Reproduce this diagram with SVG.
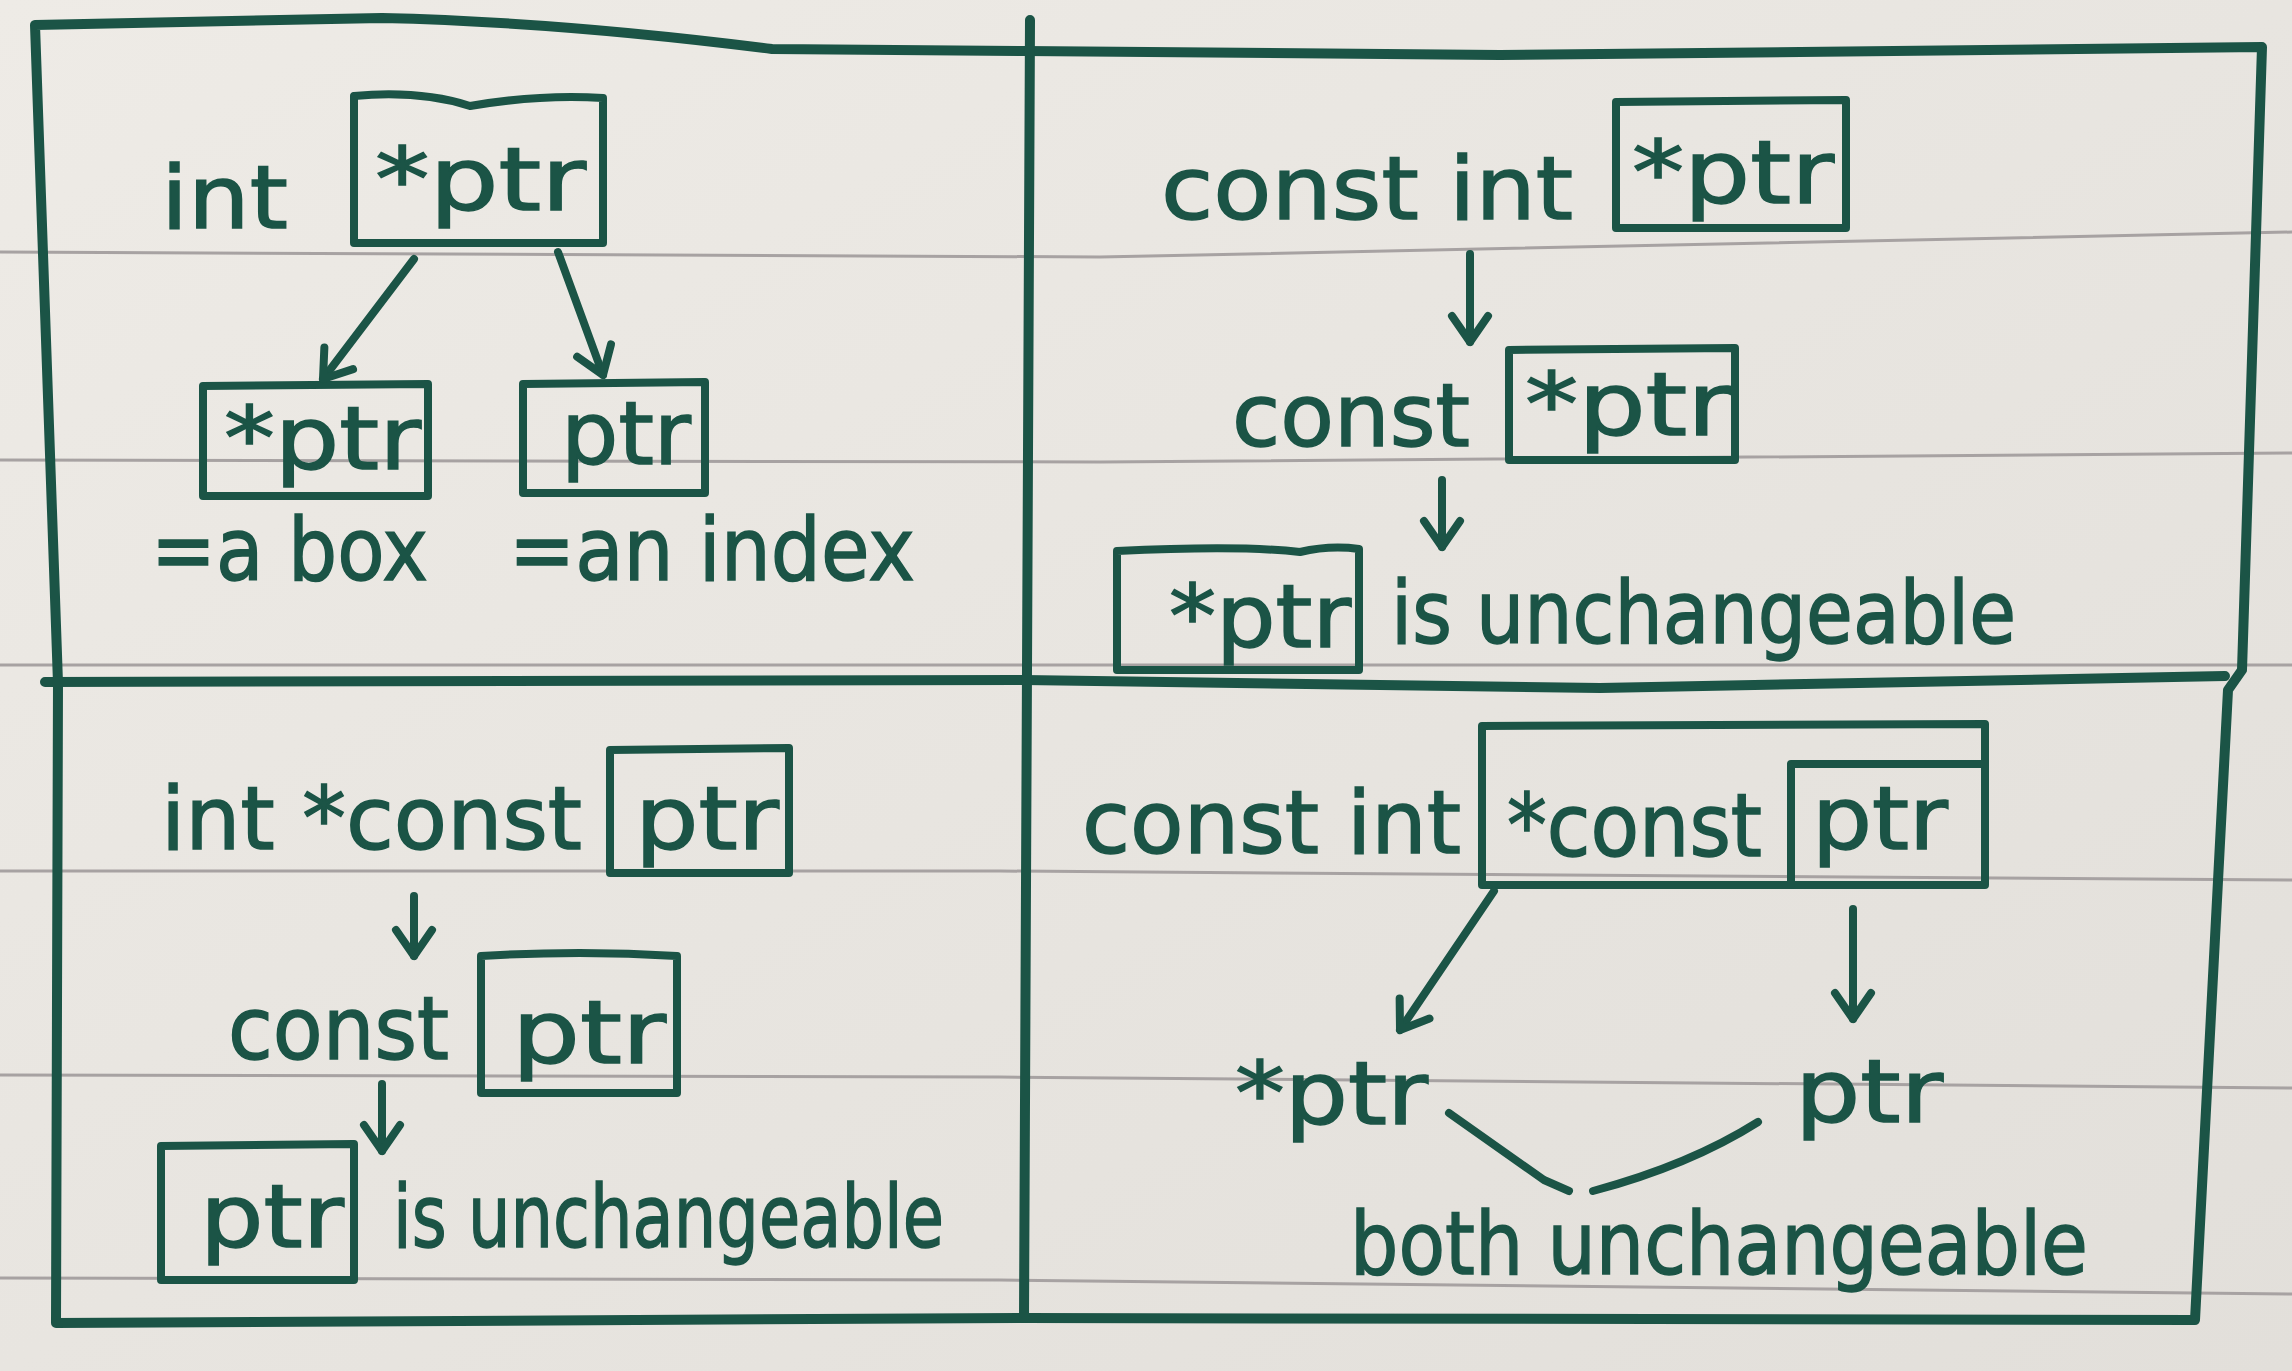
<svg xmlns="http://www.w3.org/2000/svg" width="2292" height="1371" viewBox="0 0 2292 1371">
<style>
.ink{fill:none;stroke:#1b5446;stroke-width:8;stroke-linecap:round;stroke-linejoin:round}
.frame{fill:none;stroke:#1b5446;stroke-width:10;stroke-linecap:round;stroke-linejoin:round}
.box{fill:none;stroke:#1b5446;stroke-width:8;stroke-linecap:round;stroke-linejoin:round}
.rule{fill:none;stroke:#a7a2a2;stroke-width:3}
.t{font-family:"DejaVu Sans",sans-serif;fill:#1b5446;stroke:#1b5446;stroke-width:1.5;font-size:88px}
</style>
<defs>
<linearGradient id="paper" x1="0" y1="0" x2="1" y2="1">
<stop offset="0" stop-color="#eeebe6"/>
<stop offset="1" stop-color="#e2dfda"/>
</linearGradient>
<marker id="ah" markerUnits="userSpaceOnUse" markerWidth="60" markerHeight="60" refX="44" refY="30" orient="auto">
<path d="M18,12 L44,30 L18,48" fill="none" stroke="#1b5446" stroke-width="8" stroke-linecap="round" stroke-linejoin="round"/>
</marker>
</defs>
<rect width="2292" height="1371" fill="url(#paper)"/>
<g id="ruled-lines">
<path class="rule" d="M0,252 L1100,257 L2292,232"/>
<path class="rule" d="M0,460 L1100,462 L2292,453"/>
<path class="rule" d="M0,665 L2292,665"/>
<path class="rule" d="M0,871 L1000,871 L2292,880"/>
<path class="rule" d="M0,1075 L1000,1077 L2292,1088"/>
<path class="rule" d="M0,1278 L1000,1280 L2292,1294"/>
</g>
<g id="frame">
<path class="frame" d="M35,25 L382,18 Q560,22 772,49 L1024,51 L1500,55 L1800,52 L2262,47 L2242,670 L2228,690 L2195,1320 L1024,1318 L56,1323 L58,683 Z"/>
<path class="frame" d="M45,682 L1024,680 L1600,688 L2225,676"/>
<path class="frame" d="M1030,20 L1024,1318"/>
</g>
<g id="tl-decl">
<text class="t" x="161" y="228" textLength="127" lengthAdjust="spacingAndGlyphs" font-size="90">int</text>
<path class="box" d="M354,96 Q420,90 470,106 Q540,94 603,98 L603,243 L354,243 Z"/>
<text class="t" x="375" y="210" textLength="211" lengthAdjust="spacingAndGlyphs" font-size="82">*ptr</text>
</g>
<g id="tl-deref">
<path class="box" d="M203,386 L428,384 L428,496 L203,496 Z"/>
<text class="t" x="224" y="469" textLength="197" lengthAdjust="spacingAndGlyphs" font-size="82">*ptr</text>
<text class="t" x="151" y="580" textLength="277" lengthAdjust="spacingAndGlyphs">=a box</text>
</g>
<g id="tl-ptr">
<path class="box" d="M523,384 L705,382 L705,493 L523,493 Z"/>
<text class="t" x="561" y="464" textLength="130" lengthAdjust="spacingAndGlyphs" font-size="85">ptr</text>
<text class="t" x="509" y="580" textLength="406" lengthAdjust="spacingAndGlyphs">=an index</text>
</g>
<g id="tr-decl">
<text class="t" x="1161" y="219" textLength="412" lengthAdjust="spacingAndGlyphs">const int</text>
<path class="box" d="M1616,102 L1846,100 L1846,228 L1616,228 Z"/>
<text class="t" x="1632" y="203" textLength="202" lengthAdjust="spacingAndGlyphs" font-size="85">*ptr</text>
</g>
<g id="tr-step">
<text class="t" x="1232" y="446" textLength="238" lengthAdjust="spacingAndGlyphs" font-size="92">const</text>
<path class="box" d="M1509,350 L1735,348 L1735,460 L1509,460 Z"/>
<text class="t" x="1525" y="435" textLength="206" lengthAdjust="spacingAndGlyphs" font-size="85">*ptr</text>
</g>
<g id="tr-result">
<path class="box" d="M1117,551 Q1240,545 1300,552 Q1330,545 1359,549 L1359,670 L1117,670 Z"/>
<text class="t" x="1169" y="647" textLength="182" lengthAdjust="spacingAndGlyphs" font-size="80">*ptr</text>
<text class="t" x="1391" y="643" textLength="625" lengthAdjust="spacingAndGlyphs" font-size="95">is unchangeable</text>
</g>
<g id="bl-decl">
<text class="t" x="161" y="849" textLength="421" lengthAdjust="spacingAndGlyphs" font-size="90">int *const</text>
<path class="box" d="M610,750 L789,748 L789,873 L610,873 Z"/>
<text class="t" x="635" y="849" textLength="144" lengthAdjust="spacingAndGlyphs">ptr</text>
</g>
<g id="bl-step">
<text class="t" x="228" y="1059" textLength="221" lengthAdjust="spacingAndGlyphs">const</text>
<path class="box" d="M481,956 Q580,950 677,956 L677,1093 L481,1093 Z"/>
<text class="t" x="512" y="1063" textLength="154" lengthAdjust="spacingAndGlyphs">ptr</text>
</g>
<g id="bl-result">
<path class="box" d="M161,1146 L354,1144 L354,1280 L161,1280 Z"/>
<text class="t" x="200" y="1247" textLength="144" lengthAdjust="spacingAndGlyphs" font-size="85">ptr</text>
<text class="t" x="393" y="1247" textLength="551" lengthAdjust="spacingAndGlyphs">is unchangeable</text>
</g>
<g id="br-decl">
<text class="t" x="1082" y="853" textLength="379" lengthAdjust="spacingAndGlyphs">const int</text>
<path class="box" d="M1482,726 L1985,724 L1985,885 L1482,885 Z"/>
<text class="t" x="1507" y="856" textLength="255" lengthAdjust="spacingAndGlyphs" font-size="90">*const</text>
<path class="box" d="M1791,885 L1791,764 L1981,764"/>
<text class="t" x="1812" y="849" textLength="136" lengthAdjust="spacingAndGlyphs" font-size="85">ptr</text>
</g>
<g id="br-deref">
<text class="t" x="1235" y="1124" textLength="193" lengthAdjust="spacingAndGlyphs" font-size="85">*ptr</text>
</g>
<g id="br-ptr">
<text class="t" x="1795" y="1122" textLength="148" lengthAdjust="spacingAndGlyphs">ptr</text>
</g>
<g id="br-result">
<text class="t" x="1350" y="1274" textLength="738" lengthAdjust="spacingAndGlyphs" font-size="92">both unchangeable</text>
</g>
<g id="connectors">
<path class="ink" d="M414,259 L323,379" marker-end="url(#ah)"/>
<path class="ink" d="M558,252 L603,375" marker-end="url(#ah)"/>
<path class="ink" d="M1470,254 L1470,342" marker-end="url(#ah)"/>
<path class="ink" d="M1442,480 L1442,547" marker-end="url(#ah)"/>
<path class="ink" d="M414,896 L414,956" marker-end="url(#ah)"/>
<path class="ink" d="M382,1084 L382,1151" marker-end="url(#ah)"/>
<path class="ink" d="M1494,891 L1400,1030" marker-end="url(#ah)"/>
<path class="ink" d="M1853,909 L1853,1019" marker-end="url(#ah)"/>
<path class="ink" d="M1449,1113 L1544,1180 L1569,1191"/>
<path class="ink" d="M1593,1191 Q1690,1165 1758,1122"/>
</g>
</svg>
